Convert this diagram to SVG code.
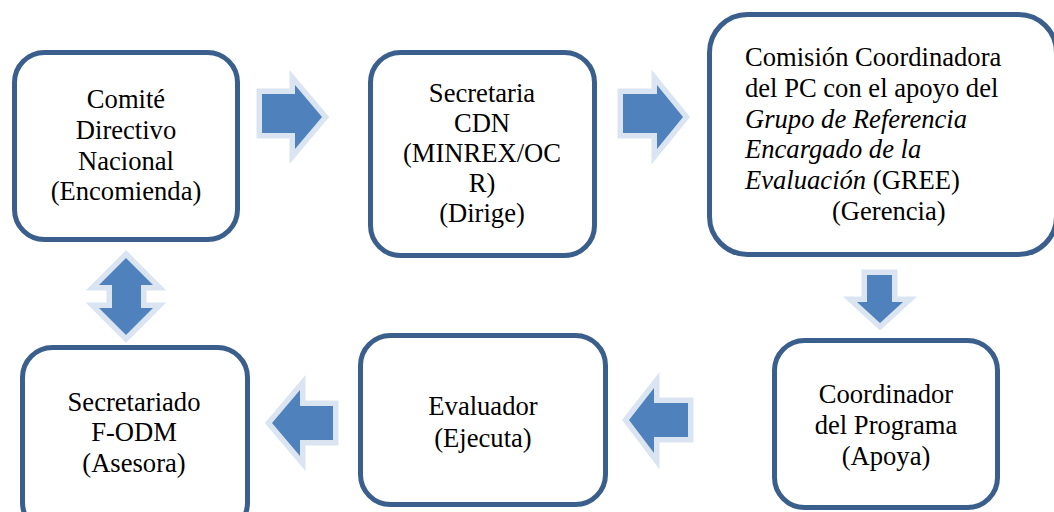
<svg xmlns="http://www.w3.org/2000/svg" width="1054" height="512" viewBox="0 0 1054 512">
<style>
.box{fill:#fff;stroke:#3b5f8c;stroke-width:5}
.arr{fill:#4f81bd;stroke:#dbe5f1;stroke-width:11;stroke-linejoin:miter;stroke-miterlimit:10;paint-order:stroke}
text{font-size:26.6px;fill:#000}
.c{text-anchor:middle}
</style>
<rect width="1054" height="512" fill="#fff"/>
<g id="connectors">
<polygon class="arr" points="262,94 295,94 295,85 322,117 295,149 295,133 262,133"/>
<polygon class="arr" points="623,94 657,94 657,85 683,117 657,149 657,133 623,133"/>
<polygon class="arr" points="867,275 892,275 892,302 903,302 880,323 857,302 867,302"/>
<polygon class="arr" points="629,420 654,388 654,403 688,403 688,437 654,437 654,453"/>
<polygon class="arr" points="272,423 300,390 300,406 333,406 333,440 300,440 300,456"/>
<polygon class="arr" points="126,258 153,285 141,285 141,308 153,308 126,335 99,308 112,308 112,285 99,285"/>
</g>
<g font-family="Liberation Serif, Times New Roman, DejaVu Serif, serif">
<g id="n1">
<rect class="box" x="14.5" y="52.5" width="223" height="187" rx="30"/>
<text class="c" x="126" y="108">Comité</text>
<text class="c" x="126" y="139">Directivo</text>
<text class="c" x="126" y="170">Nacional</text>
<text class="c" x="126" y="200">(Encomienda)</text>
</g>
<g id="n2">
<rect class="box" x="370.5" y="52.5" width="224" height="203" rx="30"/>
<text class="c" x="482" y="102">Secretaria</text>
<text class="c" x="482" y="132">CDN</text>
<text class="c" x="482" y="162">(MINREX/OC</text>
<text class="c" x="482" y="192">R)</text>
<text class="c" x="482" y="222">(Dirige)</text>
</g>
<g id="n3">
<rect class="box" x="709.5" y="14.5" width="347" height="240" rx="38"/>
<text x="745" y="66">Comisión Coordinadora</text>
<text x="745" y="97">del PC con el apoyo del</text>
<text x="745" y="128" font-style="italic">Grupo de Referencia</text>
<text x="745" y="158" font-style="italic">Encargado de la</text>
<text x="745" y="189"><tspan font-style="italic">Evaluación</tspan> (GREE)</text>
<text x="832" y="220">(Gerencia)</text>
</g>
<g id="n4">
<rect class="box" x="774.5" y="340.5" width="223" height="167" rx="30"/>
<text class="c" x="886" y="403">Coordinador</text>
<text class="c" x="886" y="434">del Programa</text>
<text class="c" x="886" y="465">(Apoya)</text>
</g>
<g id="n5">
<rect class="box" x="360.5" y="335.5" width="245" height="169" rx="30"/>
<text class="c" x="483" y="415">Evaluador</text>
<text class="c" x="483" y="447">(Ejecuta)</text>
</g>
<g id="n6">
<rect class="box" x="22.5" y="347.5" width="225" height="185" rx="30"/>
<text class="c" x="134" y="411">Secretariado</text>
<text class="c" x="134" y="441">F-ODM</text>
<text class="c" x="134" y="472">(Asesora)</text>
</g>
</g>
</svg>
